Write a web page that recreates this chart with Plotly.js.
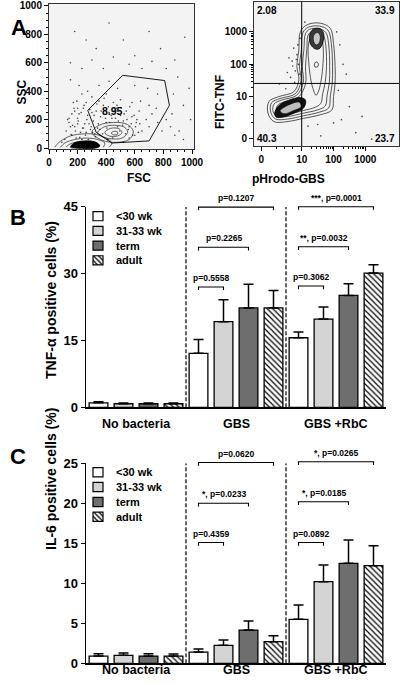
<!DOCTYPE html>
<html><head><meta charset="utf-8">
<script src="https://cdn.plot.ly/plotly-3.0.1.min.js"></script>
<style>html,body{margin:0;padding:0;background:#fff}#chart{width:400px;height:684px}</style>
</head><body><div id="chart"></div>
<script>
// ================= DATA =================
// Panels B and C
const groups = ["No bacteria", "GBS", "GBS +RbC"];
const ages = ["<30 wk", "31-33 wk", "term", "adult"];
const ageColors = ["#ffffff", "#d4d4d4", "#6e6e6e", "#ffffff"];
const agePatterns = ["", "", "", "\\"];

// TNF-alpha positive cells (%), per age group, across [No bacteria, GBS, GBS +RbC]
const tnf_lt30  = [1.0, 12.1, 15.6];
const tnf_31_33 = [0.8, 19.2, 19.8];
const tnf_term  = [0.8, 22.3, 25.1];
const tnf_adult = [0.8, 22.3, 30.1];
const tnfErr_lt30  = [0.25, 3.1, 1.3];
const tnfErr_31_33 = [0.15, 4.9, 2.7];
const tnfErr_term  = [0.15, 5.3, 2.6];
const tnfErr_adult = [0.15, 3.9, 1.9];
const tnfTicks = [0, 15, 30, 45];
const tnfBrGroup = [1, 1, 1, 2, 2, 2];
const tnfBrFrom  = [0, 0, 0, 0, 0, 0];
const tnfBrTo    = [1, 2, 3, 1, 2, 3];
const tnfBrLevel = [27.0, 35.9, 44.9, 27.2, 36.0, 45.0];
const tnfBrLabel = ["p=0.5558", "p=0.2265", "p=0.1207", "p=0.3062", "**, p=0.0032", "***, p=0.0001"];

// IL-6 positive cells (%)
const il6_lt30  = [0.9, 1.4, 5.5];
const il6_31_33 = [1.0, 2.25, 10.2];
const il6_term  = [0.9, 4.15, 12.5];
const il6_adult = [0.9, 2.7, 12.2];
const il6Err_lt30  = [0.3, 0.4, 1.8];
const il6Err_31_33 = [0.3, 0.65, 2.1];
const il6Err_term  = [0.3, 1.15, 2.9];
const il6Err_adult = [0.25, 0.75, 2.5];
const il6Ticks = [0, 5, 10, 15, 20, 25];
const il6BrGroup = [1, 1, 1, 2, 2, 2];
const il6BrFrom  = [0, 0, 0, 0, 0, 0];
const il6BrTo    = [1, 2, 3, 1, 2, 3];
const il6BrLevel = [15.1, 20.0, 25.1, 15.1, 20.2, 25.2];
const il6BrLabel = ["p=0.4359", "*, p=0.0233", "p=0.0620", "p=0.0892", "*, p=0.0185", "*, p=0.0265"];

// Panel A left: FSC / SSC
const fscTicks = [0, 200, 400, 600, 800, 1000];
const sscTicks = [0, 200, 400, 600, 800, 1000];
const gateFsc = [271, 515, 809, 842, 700, 440, 330, 271];
const gateSsc = [265, 512, 475, 300, 50, 35, 110, 265];
const gateLabel = "8.95";
const dotsFsc = [180,260,330,420,520,600,700,780,880,950,150,230,300,380,450,560,650,720,820,900,980,150,210,270,350,420,480,600,690,760,870,940,990,860,910,
  120,140,160,180,200,220,240,250,270,290,310,330,340,360,380,400,420,440,470,500,520,540,560,580,610,630,650,680,700,720,760,790,820,850,880,940,600,560,520,160,190,230,110,90,130,170,200,260,300,230,180,150,280,320,360,410,480,450,400,500,580,640,700,750,200,240,260,210,300,350,
  140,155,165,175,185,195,205,215,225,235,245,255,265,275,285,295,305,315,325,335,345,355,365,375,385,395,405,415,425,435,445,455,465,475,485,495,505,515,525,535,545,555,565,575,585,595,605,615,625,635];
const dotsSsc = [820,760,700,880,760,650,820,700,620,780,600,560,620,560,640,590,560,610,560,500,420,480,440,400,440,470,420,440,420,380,380,300,200,240,120,
  120,180,240,150,210,110,280,170,230,130,190,260,140,220,300,180,250,210,280,230,190,260,150,220,180,260,120,200,150,240,180,120,200,150,90,60,90,70,40,90,70,60,60,40,200,320,280,320,360,380,260,150,170,100,90,60,150,320,380,340,320,330,300,280,170,140,110,240,250,330,
  210,95,160,280,120,330,190,75,250,140,300,90,200,60,270,150,110,230,80,310,170,130,260,100,350,210,140,290,180,230,70,260,210,300,190,120,280,160,240,100,200,130,290,170,90,230,150,200,110,170];
const lowRing1Fsc = [40,70,150,250,330,400,440,420];
const lowRing1Ssc = [5,40,85,100,95,70,35,5];
const lowRing2Fsc = [80,110,180,260,340,390,380];
const lowRing2Ssc = [5,35,60,70,60,35,5];
const lowRing3Fsc = [120,150,220,310,350,330];
const lowRing3Ssc = [8,30,45,40,18,5];
const lowCoreFsc = [150,175,250,330,355,330,170,150];
const lowCoreSsc = [5,35,50,40,15,0,0,5];
const secRing1Fsc = [300,350,450,550,590,560,470,370,300];
const secRing1Ssc = [110,160,180,165,115,60,40,55,110];
const secRing2Fsc = [340,390,460,530,550,510,430,370,340];
const secRing2Ssc = [110,150,160,145,110,70,65,80,110];
const secRing3Fsc = [390,430,490,510,480,420,390];
const secRing3Ssc = [108,138,135,108,85,85,108];
const secRing4Fsc = [435,455,480,478,455,435];
const secRing4Ssc = [105,118,112,96,92,105];

// Panel A right: pHrodo-GBS / FITC-TNF (display units: one decade per unit)
const logTicks = [0, 10, 100, 1000];
const quadX = 10, quadY = 26;
const quadLabels = ["2.08", "33.9", "40.3", "23.7"];
const ring1X = [0.96,1.17,1.58,1.90,2.00,2.05,2.05,2.00,1.95,1.58,1.06,0.54,0.125,-0.06,-0.03,0.28,0.75,0.91,0.85,0.91,0.96];
const ring1Y = [3.01,3.22,3.27,3.11,2.65,1.93,1.42,1.01,0.60,0.45,0.34,0.24,0.24,0.50,0.86,1.01,1.16,1.52,1.93,2.45,3.01];
const ring2X = [1.04,1.20,1.56,1.83,1.93,1.97,1.96,1.90,1.85,1.55,1.06,0.56,0.18,0.03,0.05,0.32,0.80,0.98,0.93,0.99,1.04];
const ring2Y = [2.98,3.14,3.18,3.05,2.65,1.93,1.42,1.03,0.66,0.53,0.42,0.32,0.32,0.52,0.82,0.95,1.10,1.50,1.93,2.45,2.98];
const ring3X = [1.12,1.25,1.54,1.76,1.85,1.88,1.87,1.80,1.74,1.50,1.05,0.58,0.23,0.10,0.13,0.36,0.84,1.05,1.02,1.07,1.12];
const ring3Y = [2.95,3.08,3.10,2.98,2.60,1.93,1.45,1.06,0.72,0.60,0.50,0.40,0.40,0.55,0.78,0.90,1.05,1.45,1.93,2.45,2.95];
const ring4X = [1.20,1.30,1.52,1.68,1.76,1.78,1.74,1.66,1.60,1.42,1.05,0.62,0.30,0.20,0.24,0.42,0.88,1.12,1.12,1.16,1.20];
const ring4Y = [2.90,3.00,3.02,2.90,2.55,1.93,1.45,1.10,0.80,0.68,0.58,0.48,0.48,0.58,0.74,0.84,0.98,1.40,1.93,2.45,2.90];
const ring5X = [1.26,1.36,1.50,1.62,1.68,1.66,1.60,1.52,1.45,1.34,1.26,1.22,1.20,1.26];
const ring5Y = [2.80,2.92,2.95,2.82,2.45,1.90,1.45,1.15,1.05,1.30,1.70,2.10,2.45,2.80];
const topCoreX = [1.28,1.25,1.36,1.58,1.69,1.66,1.55,1.42,1.28];
const topCoreY = [2.62,2.90,3.08,3.10,2.95,2.66,2.48,2.48,2.62];
const topHoleX = [1.38,1.38,1.50,1.58,1.55,1.46,1.38];
const topHoleY = [2.70,2.90,2.98,2.88,2.66,2.60,2.70];
const lowCoreX = [0.15,0.30,0.60,0.95,1.12,1.06,0.75,0.40,0.20,0.15];
const lowCoreY = [0.50,0.75,0.90,0.98,0.90,0.66,0.50,0.38,0.38,0.50];
const lowHoleX = [0.32,0.60,0.92,0.98,0.72,0.45,0.32];
const lowHoleY = [0.57,0.76,0.84,0.70,0.57,0.48,0.57];
const nodeX = [1.40,1.45,1.52,1.50,1.42,1.40];
const nodeY = [2.00,2.08,2.03,1.93,1.92,2.00];
const pDotsX = [0.75,0.85,0.70,0.90,0.80,0.65,0.92,0.78,0.60,0.88,0.95,0.72,0.55,0.83,2.20,2.30,2.40,2.15,2.50,2.25,2.70,1.60,1.20,1.50,2.00,3.20,2.90,0.30,0.50,1.10,2.10];
const pDotsY = [2.50,2.30,2.10,2.00,1.80,1.60,1.70,1.45,2.20,2.60,2.80,1.95,1.75,2.15,2.60,2.00,1.70,1.20,0.70,0.30,-0.10,-0.20,0.10,0.15,0.20,-0.30,0.40,1.40,1.25,3.30,3.00];

// ================= BUILD =================
const FONT = "Liberation Sans, Arial, Helvetica, sans-serif";
const zeroDisp = -0.27;
const disp = v => v <= 0 ? zeroDisp : Math.log10(v);
const px = (x) => x / 400;
const py = (y) => 1 - y / 684;

const traces = [];
function line(x, y, xa, ya, opts) {
  traces.push(Object.assign({type: 'scatter', mode: 'lines', x, y, xaxis: xa, yaxis: ya,
    line: {color: '#000', width: 0.8}, hoverinfo: 'skip', showlegend: false, cliponaxis: false}, opts || {}));
}

// ---- Panel A left
traces.push({type: 'scatter', mode: 'markers', x: dotsFsc, y: dotsSsc, xaxis: 'x', yaxis: 'y',
  marker: {size: 1.6, color: '#444'}, showlegend: false, hoverinfo: 'skip'});
line(lowRing1Fsc, lowRing1Ssc, 'x', 'y', {line: {color: '#222', width: 0.7, shape: 'spline'}});
line(lowRing2Fsc, lowRing2Ssc, 'x', 'y', {line: {color: '#222', width: 0.7, shape: 'spline'}});
line(lowRing3Fsc, lowRing3Ssc, 'x', 'y', {line: {color: '#222', width: 0.7, shape: 'spline'}});
line(lowCoreFsc, lowCoreSsc, 'x', 'y', {fill: 'toself', fillcolor: '#000', line: {color: '#000', width: 0.7, shape: 'spline'}});
[[secRing1Fsc, secRing1Ssc], [secRing2Fsc, secRing2Ssc], [secRing3Fsc, secRing3Ssc], [secRing4Fsc, secRing4Ssc]]
  .forEach(r => line(r[0], r[1], 'x', 'y', {line: {color: '#222', width: 0.7, shape: 'spline'}}));
line(gateFsc, gateSsc, 'x', 'y', {line: {color: '#000', width: 0.9}});

// ---- Panel A right
traces.push({type: 'scatter', mode: 'markers', x: pDotsX, y: pDotsY, xaxis: 'x2', yaxis: 'y2',
  marker: {size: 1.6, color: '#444'}, showlegend: false, hoverinfo: 'skip'});
[[ring1X, ring1Y], [ring2X, ring2Y], [ring3X, ring3Y], [ring4X, ring4Y], [ring5X, ring5Y]].forEach(r =>
  line(r[0], r[1], 'x2', 'y2', {line: {color: '#111', width: 0.7, shape: 'spline'}}));
line(topCoreX, topCoreY, 'x2', 'y2', {fill: 'toself', fillcolor: '#3a3a3a', line: {color: '#000', width: 0.8, shape: 'spline'}});
line(topHoleX, topHoleY, 'x2', 'y2', {fill: 'toself', fillcolor: '#c8c8c8', line: {color: '#000', width: 0.6, shape: 'spline'}});
line(lowCoreX, lowCoreY, 'x2', 'y2', {fill: 'toself', fillcolor: '#111', line: {color: '#000', width: 0.8, shape: 'spline'}});
line(lowHoleX, lowHoleY, 'x2', 'y2', {fill: 'toself', fillcolor: '#bdbdbd', line: {color: '#000', width: 0.6, shape: 'spline'}});
line(nodeX, nodeY, 'x2', 'y2', {line: {color: '#000', width: 0.7, shape: 'spline'}});
line([disp(quadX), disp(quadX)], [-0.51, 3.92], 'x2', 'y2', {line: {color: '#000', width: 1}});
line([-0.5, 4.06], [disp(quadY), disp(quadY)], 'x2', 'y2', {line: {color: '#000', width: 1}});

// ---- Bar panels (brackets drawn on a taller overlay axis with the same scale)
function barPanel(means, errs, xa, ya, bya, top, brG, brF, brT, brL, brLab, tip) {
  ages.forEach((age, a) => {
    traces.push({type: 'bar', name: age, x: groups.map((g, gi) => 4 * gi + a), y: means[a],
      xaxis: xa, yaxis: ya, width: 0.75, showlegend: false, hoverinfo: 'skip',
      marker: {color: ageColors[a], line: {color: '#000', width: 1.3},
        pattern: {shape: agePatterns[a], fgcolor: '#000', bgcolor: '#fff', size: 4, solidity: 0.3}},
      error_y: {type: 'data', symmetric: false, array: errs[a], arrayminus: errs[a].map(() => 0),
        color: '#000', thickness: 1.5, width: 5}});
  });
  for (let gi = 1; gi < groups.length; gi++) {
    line([4 * gi - 0.5, 4 * gi - 0.5], [0, top], xa, ya, {line: {color: '#000', width: 1.2, dash: '4px,2px'}});
  }
  const ann = [];
  brG.forEach((g, i) => {
    const x1 = 4 * g + brF[i], x2 = 4 * g + brT[i];
    line([x1, x1, x2, x2], [brL[i] - tip, brL[i], brL[i], brL[i] - tip], xa, bya, {line: {color: '#000', width: 1.1}});
    ann.push({xref: xa, yref: bya, x: (x1 + x2) / 2, y: brL[i], text: brLab[i], showarrow: false,
      yanchor: 'bottom', yshift: 2, font: {family: FONT, size: 8.5, weight: 'bold', color: '#000'}});
  });
  return ann;
}
const annB = barPanel([tnf_lt30, tnf_31_33, tnf_term, tnf_adult],
  [tnfErr_lt30, tnfErr_31_33, tnfErr_term, tnfErr_adult], 'x3', 'y3', 'y7', 45,
  tnfBrGroup, tnfBrFrom, tnfBrTo, tnfBrLevel, tnfBrLabel, 0.7);
const annC = barPanel([il6_lt30, il6_31_33, il6_term, il6_adult],
  [il6Err_lt30, il6Err_31_33, il6Err_term, il6Err_adult], 'x4', 'y4', 'y8', 25,
  il6BrGroup, il6BrFrom, il6BrTo, il6BrLevel, il6BrLabel, 0.4);

// legend keys (drawn as small horizontal bars, one per age)
[['x5', 'y5'], ['x6', 'y6']].forEach(ax => {
  ages.forEach((age, i) => {
    traces.push({type: 'bar', orientation: 'h', x: [1], y: [i], base: 0,
      width: 0.62, xaxis: ax[0], yaxis: ax[1], showlegend: false, hoverinfo: 'skip',
      marker: {color: ageColors[i], line: {color: '#000', width: 1.2},
        pattern: {shape: agePatterns[i], fgcolor: '#000', bgcolor: '#fff', size: 3.5, solidity: 0.35}}});
  });
});

// ================= LAYOUT =================
const bold = (size) => ({family: FONT, size: size, weight: 'bold', color: '#000'});
const annotations = [].concat(annB, annC);
function txt(x, y, text, size, extra) {
  annotations.push(Object.assign({xref: 'paper', yref: 'paper', x: x, y: y, text: text, showarrow: false,
    font: bold(size)}, extra || {}));
}
txt(px(9), py(13), 'A', 22);
txt(px(8), py(203), 'B', 22);
txt(px(8), py(456), 'C', 22);
txt(px(12.5), py(77.5), 'SSC', 12, {textangle: -90});
txt(px(124.7), py(169.5), 'FSC', 12);
txt(px(220), py(73), 'FITC-TNF', 12, {textangle: -90});
txt(px(326.7), py(170), 'pHrodo-GBS', 12);
txt(px(41), py(300), 'TNF-α positive cells (%)', 14, {textangle: -90});
txt(px(41), py(552), 'IL-6 positive cells (%)', 14, {textangle: -90});
annotations.push({xref: 'x', yref: 'y', x: 446, y: 258, text: gateLabel, showarrow: false, font: bold(10.5)});
const qPos = [[0.01, 0.995, 'left', 'top'], [0.985, 0.995, 'right', 'top'], [0.01, 0.0, 'left', 'bottom'], [0.985, 0.0, 'right', 'bottom']];
quadLabels.forEach((t, i) => annotations.push({xref: 'x2 domain', yref: 'y2 domain', x: qPos[i][0], y: qPos[i][1],
  xanchor: qPos[i][2], yanchor: qPos[i][3], text: t, showarrow: false, font: bold(10)}));
groups.forEach((g, gi) => {
  annotations.push({xref: 'x3', yref: 'paper', x: 4 * gi + 1.5, y: py(424), text: g, showarrow: false, font: bold(12.5)});
  annotations.push({xref: 'x4', yref: 'paper', x: 4 * gi + 1.5, y: py(678.5), text: g, showarrow: false, font: bold(12.5)});
});
ages.forEach((a, i) => {
  annotations.push({xref: 'paper', yref: 'y5', x: px(114), y: i, xanchor: 'left', text: a.replace('<', '&lt;'), showarrow: false, font: bold(11)});
  annotations.push({xref: 'paper', yref: 'y6', x: px(114), y: i, xanchor: 'left', text: a.replace('<', '&lt;'), showarrow: false, font: bold(11)});
});

const flowAxis = {showgrid: false, zeroline: false, showline: true, mirror: true, linecolor: '#333', linewidth: 1,
  ticks: 'outside', ticklen: 4, tickcolor: '#000', tickwidth: 1, tickfont: bold(10), fixedrange: true};
const minorLogVals = [];
[1, 2].forEach(k => { for (let m = 2; m <= 9; m++) minorLogVals.push(k + Math.log10(m)); });
[0.2, 0.45, 0.7].forEach(v => minorLogVals.push(v));
const barY = {showgrid: false, zeroline: false, showline: true, linecolor: '#000', linewidth: 1.5,
  ticks: 'outside', ticklen: 4, tickwidth: 1.5, tickcolor: '#000', tickfont: bold(13), fixedrange: true};
const barX = {showgrid: false, zeroline: false, showline: true, linecolor: '#000', linewidth: 1.5,
  showticklabels: false, ticks: '', range: [-0.5, 11.5], fixedrange: true};
const hidden = {visible: false, fixedrange: true};

// bracket axes: same pixel scale as bar axes, but extended upward
const bBot = 407.3, bTop = 206.7, cBot = 663.3, cTop = 463.3, ext = 30;
const layout = {
  width: 400, height: 684, margin: {l: 0, r: 0, t: 0, b: 0}, paper_bgcolor: '#fff', plot_bgcolor: 'rgba(0,0,0,0)',
  showlegend: false, barmode: 'overlay', font: {family: FONT, color: '#000'},
  xaxis: Object.assign({}, flowAxis, {domain: [px(49), px(194)], range: [0, 1014], tickmode: 'array', tickvals: fscTicks,
    ticktext: fscTicks.map(String), anchor: 'y', minor: {ticks: 'outside', ticklen: 2, dtick: 50, tick0: 0, tickcolor: '#000'}}),
  yaxis: Object.assign({}, flowAxis, {domain: [py(149), py(4)], range: [-7, 1014], tickmode: 'array', tickvals: sscTicks,
    ticktext: sscTicks.map(String), anchor: 'x', minor: {ticks: 'outside', ticklen: 2, dtick: 50, tick0: 0, tickcolor: '#000'}}),
  xaxis2: Object.assign({}, flowAxis, {domain: [px(254), px(399)], range: [-0.5, 4.06], tickmode: 'array', anchor: 'y2',
    tickvals: logTicks.map(disp), ticktext: logTicks.map(String),
    minor: {ticks: 'outside', ticklen: 2, tickmode: 'array', tickvals: minorLogVals, tickcolor: '#000'}}),
  yaxis2: Object.assign({}, flowAxis, {domain: [py(146), py(2)], range: [-0.51, 3.92], tickmode: 'array', anchor: 'x2',
    tickvals: logTicks.map(disp), ticktext: logTicks.map(String),
    minor: {ticks: 'outside', ticklen: 2, tickmode: 'array', tickvals: minorLogVals, tickcolor: '#000'}}),
  xaxis3: Object.assign({}, barX, {domain: [px(86), px(386)], anchor: 'y3'}),
  yaxis3: Object.assign({}, barY, {domain: [py(bBot), py(bTop)], range: [0, 45], tickmode: 'array', tickvals: tnfTicks, anchor: 'x3'}),
  yaxis7: Object.assign({}, hidden, {domain: [py(bBot), py(bTop - ext)], range: [0, 45 * (bBot - bTop + ext) / (bBot - bTop)], anchor: 'x3'}),
  xaxis4: Object.assign({}, barX, {domain: [px(86), px(386)], anchor: 'y4'}),
  yaxis4: Object.assign({}, barY, {domain: [py(cBot), py(cTop)], range: [0, 25], tickmode: 'array', tickvals: il6Ticks, anchor: 'x4'}),
  yaxis8: Object.assign({}, hidden, {domain: [py(cBot), py(cTop - ext)], range: [0, 25 * (cBot - cTop + ext) / (cBot - cTop)], anchor: 'x4'}),
  xaxis5: Object.assign({}, hidden, {domain: [px(91), px(105)], range: [-0.2, 1.2], anchor: 'y5'}),
  yaxis5: Object.assign({}, hidden, {domain: [py(267.65), py(208.85)], range: [3.5, -0.5], anchor: 'x5'}),
  xaxis6: Object.assign({}, hidden, {domain: [px(91), px(105)], range: [-0.2, 1.2], anchor: 'y6'}),
  yaxis6: Object.assign({}, hidden, {domain: [py(524.2), py(464.8)], range: [3.5, -0.5], anchor: 'x6'}),
  shapes: [
    {type: 'rect', xref: 'x domain', yref: 'y domain', x0: 0, x1: 1, y0: 0, y1: 1, fillcolor: '#f3f3f3', line: {width: 0}, layer: 'below'},
    {type: 'rect', xref: 'x2 domain', yref: 'y2 domain', x0: 0, x1: 1, y0: 0, y1: 1, fillcolor: '#f3f3f3', line: {width: 0}, layer: 'below'}
  ],
  annotations: annotations
};

Plotly.newPlot('chart', traces, layout, {staticPlot: true, displayModeBar: false});
</script></body></html>
